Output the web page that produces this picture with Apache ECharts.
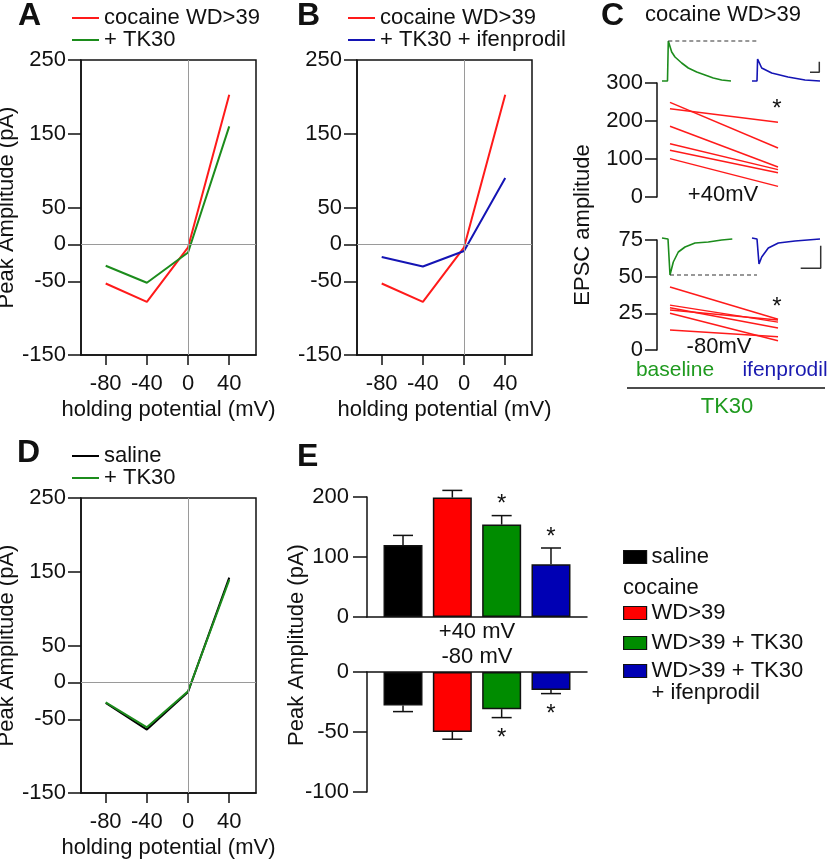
<!DOCTYPE html>
<html>
<head>
<meta charset="utf-8">
<script src="https://cdn.jsdelivr.net/npm/echarts@6/dist/echarts.min.js"></script>
<style>
  html, body { margin: 0; padding: 0; background: #fff; }
  #chart { width: 828px; height: 860px; }
</style>
</head>
<body>
<div id="chart"></div>
<script>
// holding potentials (mV) and I-V tick labels
const potentials = [-80, -40, 0, 40];
const ivTicks = [-150, -50, 0, 50, 150, 250];

// A / B: cocaine WD>39 I-V curves (pA)
const cocaineIV = [-53, -78, -4, 203];
const tk30IV = [-29, -52, -11, 160];
const ifenIV = [-17, -30, -9, 90];

// D: saline I-V curves (pA)
const salineIV = [-28, -64, -13, 142];
const salineTk30IV = [-27, -61, -12, 139];

// C: paired cells, baseline -> ifenprodil
const c40Baseline = [249, 232, 186, 140, 123, 101];
const c40Ifen = [129, 197, 79, 72, 64, 28];
const c80Baseline = [43, 30.6, 28.8, 27.2, 25, 13.6];
const c80Ifen = [21, 19, 15, 20.5, 6.3, 9];

// C: example EPSC traces [time, amplitude]
const trace40Base = [[4, 0], [9.5, 0], [10.3, 40], [13.7, 29], [17, 24], [23.7, 18], [30.3, 13], [38.7, 9], [47, 6], [55.3, 3], [63.7, 1], [73, 0]];
const trace40Ifen = [[94, 0], [99, 0], [99.6, 22], [103.7, 13], [113.7, 8], [130, 4], [147, 1], [162, 0]];
const trace80Base = [[4, 0], [10, -1], [12, -37], [15.3, -24], [20.3, -14], [27, -9], [37, -5], [50.3, -4], [63.7, -2], [74.3, -1]];
const trace80Ifen = [[94, 0], [99, -1], [101, -26], [103.7, -19], [110.3, -10], [120.3, -5], [137, -3], [162, -1]];
const scale40 = [[152, 8.7], [161.3, 8.7], [161.3, 19.3]];
const scale80 = [[142.7, -30.3], [162.7, -30.3], [162.7, -7.7]];

// E: group means and SEM (pA)
const groups = ['saline', 'WD>39', 'WD>39 + TK30', 'WD>39 + TK30 + ifenprodil'];
const groupColors = ['#000000', '#ff0000', '#008c00', '#0000b4'];
const mean40 = [120, 199, 154, 88];
const sem40 = [16, 12, 15, 27];
const mean80 = [-28, -50, -31, -15];
const sem80 = [5, 6, 7, 3];
const sig = [false, false, true, true];

const FONT = '"Liberation Sans", Arial, Helvetica, sans-serif';
const FS = 22;
const black = '#111';
const red = '#ff1a1a';
const green = '#1c8c1c';
const blue = '#1414b4';

const chart = echarts.init(document.getElementById('chart'));

const solidAxis = { show: true, onZero: false, lineStyle: { color: black, width: 1.5 } };
const tickStyle = { color: black, width: 1.5 };

function ivX(gi) {
    return {
        gridIndex: gi, type: 'value', min: -104, max: 66,
        axisLine: solidAxis,
        axisTick: { show: true, customValues: potentials, length: 10, lineStyle: tickStyle },
        axisLabel: { customValues: potentials, fontSize: FS, color: black, margin: 18 },
        splitLine: { show: false },
        name: 'holding potential (mV)', nameLocation: 'middle', nameGap: 44,
        nameTextStyle: { fontSize: FS, color: black }
    };
}
function ivY(gi, name) {
    return {
        gridIndex: gi, type: 'value', min: -150, max: 250,
        axisLine: solidAxis,
        axisTick: { show: true, customValues: ivTicks, length: 13, lineStyle: tickStyle },
        axisLabel: { customValues: ivTicks, fontSize: FS, color: black, margin: 15 },
        splitLine: { show: false },
        name: name, nameLocation: 'middle', nameGap: 59,
        nameTextStyle: { fontSize: FS, color: black }
    };
}
const zeroLines = {
    silent: true, symbol: 'none', label: { show: false },
    lineStyle: { color: '#9a9a9a', width: 1, type: 'solid' },
    data: [{ yAxis: 0 }, { xAxis: 0 }]
};
function ivLine(name, color, gi, values, withZero) {
    return {
        type: 'line', name: name, xAxisIndex: gi, yAxisIndex: gi,
        data: potentials.map((p, i) => [p, values[i]]),
        showSymbol: false, symbol: 'none', silent: true,
        lineStyle: { color: color, width: 2 }, itemStyle: { color: color },
        markLine: withZero ? zeroLines : undefined
    };
}
function pairLines(gi, left, right) {
    return left.map((v, i) => ({
        type: 'line', xAxisIndex: gi, yAxisIndex: gi, silent: true,
        data: [[0, v], [1, right[i]]], showSymbol: false, symbol: 'none',
        lineStyle: { color: red, width: 1.5 }
    }));
}
function traceLine(gi, data, color, width, dashed) {
    return {
        type: 'line', xAxisIndex: gi, yAxisIndex: gi, silent: true, data: data,
        showSymbol: false, symbol: 'none',
        lineStyle: { color: color, width: width, type: dashed ? [4, 3] : 'solid' }
    };
}
function hiddenAxis(gi, min, max) {
    return { gridIndex: gi, type: 'value', min: min, max: max, show: false };
}
function cY(gi, max, interval) {
    return {
        gridIndex: gi, type: 'value', min: 0, max: max, interval: interval, offset: 13,
        axisLine: solidAxis,
        axisTick: { show: true, length: 12, lineStyle: tickStyle },
        axisLabel: { fontSize: FS, color: black, margin: 14 },
        splitLine: { show: false }
    };
}
function eX(gi, name, pos) {
    return {
        gridIndex: gi, type: 'value', min: -0.73, max: 3.73, position: pos,
        axisLine: { show: true, onZero: true, lineStyle: { color: black, width: 1.5 } },
        axisTick: { show: false }, axisLabel: { show: false }, splitLine: { show: false },
        name: name, nameLocation: 'middle', nameGap: 4,
        nameTextStyle: { fontSize: FS, color: black }
    };
}
function eY(gi, min, max, interval) {
    return {
        gridIndex: gi, type: 'value', min: min, max: max, interval: interval,
        axisLine: solidAxis,
        axisTick: { show: true, length: 14, lineStyle: tickStyle },
        axisLabel: { fontSize: FS, color: black, margin: 18 },
        splitLine: { show: false }
    };
}
function bars(gi, means) {
    return groups.map((g, i) => ({
        type: 'bar', name: g, xAxisIndex: gi, yAxisIndex: gi, silent: true,
        data: [[i, means[i]]], barWidth: 39, barGap: '-100%',
        itemStyle: { color: groupColors[i], borderColor: black, borderWidth: 1.5 }
    }));
}
function errBars(gi, means, sems, dir) {
    return {
        type: 'custom', xAxisIndex: gi, yAxisIndex: gi, silent: true, z: 5,
        data: means.map((m, i) => [i, m, m + dir * sems[i], sig[i] ? 1 : 0]),
        renderItem: function (params, api) {
            const base = api.coord([api.value(0), api.value(1)]);
            const tip = api.coord([api.value(0), api.value(2)]);
            const kids = [
                { type: 'line', shape: { x1: base[0], y1: base[1], x2: tip[0], y2: tip[1] }, style: { stroke: black, lineWidth: 1.5 } },
                { type: 'line', shape: { x1: tip[0] - 10, y1: tip[1], x2: tip[0] + 10, y2: tip[1] }, style: { stroke: black, lineWidth: 1.5 } }
            ];
            if (api.value(3)) {
                kids.push({ type: 'text', x: tip[0], y: tip[1] + (dir > 0 ? -11 : 21),
                    style: { text: '*', font: '24px ' + FONT, fill: black, align: 'center', verticalAlign: 'middle' } });
            }
            return { type: 'group', children: kids };
        }
    };
}
function txt(x, y, text, size, opts) {
    opts = opts || {};
    return {
        type: 'text', x: x, y: y, rotation: opts.rot || 0, silent: true,
        style: {
            text: text, fill: opts.color || black,
            font: (opts.bold ? 'bold ' : '') + size + 'px ' + FONT,
            align: opts.align || 'center', verticalAlign: 'middle'
        }
    };
}
const lineLegend = {
    orient: 'vertical', icon: 'rect', itemWidth: 27, itemHeight: 2, itemGap: 0, padding: 0,
    itemStyle: { borderWidth: 0 },
    textStyle: { fontSize: FS, lineHeight: 21, color: black }
};
const boxLegend = {
    orient: 'vertical', icon: 'rect', itemWidth: 23, itemHeight: 13, itemGap: 8, padding: 0, left: 623,
    itemStyle: { borderColor: black, borderWidth: 1.2 },
    textStyle: { fontSize: FS, lineHeight: 22, color: black }
};

const gridBox = { show: true, borderColor: black, borderWidth: 1.5, backgroundColor: 'transparent', outerBoundsMode: 'none' };
const plain = { outerBoundsMode: 'none' };

chart.setOption({
    animation: false,
    backgroundColor: '#fff',
    textStyle: { fontFamily: FONT },
    grid: [
        Object.assign({ left: 81, top: 60, width: 175, height: 295 }, gridBox),   // A
        Object.assign({ left: 357, top: 60, width: 175, height: 295 }, gridBox),  // B
        Object.assign({ left: 81, top: 498, width: 175, height: 295 }, gridBox),  // D
        Object.assign({ left: 670, top: 83, width: 108, height: 114 }, plain),    // C +40
        Object.assign({ left: 670, top: 240, width: 108, height: 110 }, plain),   // C -80
        Object.assign({ left: 658, top: 31, width: 170, height: 60 }, plain),     // C traces +40
        Object.assign({ left: 658, top: 228, width: 170, height: 60 }, plain),    // C traces -80
        Object.assign({ left: 367, top: 497, width: 220, height: 120 }, plain),   // E +40
        Object.assign({ left: 367, top: 672, width: 220, height: 120 }, plain)    // E -80
    ],
    xAxis: [
        ivX(0), ivX(1), ivX(2),
        hiddenAxis(3, 0, 1), hiddenAxis(4, 0, 1),
        hiddenAxis(5, 0, 170), hiddenAxis(6, 0, 170),
        eX(7, '+40 mV', 'bottom'), eX(8, '-80 mV', 'top')
    ],
    yAxis: [
        ivY(0, 'Peak Amplitude (pA)'), ivY(1, ''), ivY(2, 'Peak Amplitude (pA)'),
        cY(3, 300, 100), cY(4, 75, 25),
        hiddenAxis(5, -10, 50), hiddenAxis(6, -50, 10),
        eY(7, 0, 200, 100), eY(8, -100, 0, 50)
    ],
    legend: [
        Object.assign({ left: 72, top: 7, data: ['cocaine WD>39', '+ TK30'] }, lineLegend),
        Object.assign({ left: 348, top: 7, data: ['cocaine WD>39', '+ TK30 + ifenprodil'] }, lineLegend),
        Object.assign({ left: 72, top: 445, data: ['saline', '+ TK30'] }, lineLegend),
        Object.assign({ top: 546, data: ['saline'] }, boxLegend),
        Object.assign({ top: 602, data: ['WD>39', 'WD>39 + TK30'] }, boxLegend),
        // last entry wraps; an empty first line keeps the swatch on the first text line
        Object.assign({}, boxLegend, {
            top: 638, data: ['WD>39 + TK30 + ifenprodil'],
            formatter: n => ' \n' + n.replace(' + ifenprodil', '\n+ ifenprodil')
        })
    ],
    series: [].concat(
        bars(7, mean40), bars(8, mean80),
        [errBars(7, mean40, sem40, 1), errBars(8, mean80, sem80, -1)],
        [
            ivLine('cocaine WD>39', red, 0, cocaineIV, true),
            ivLine('+ TK30', green, 0, tk30IV, false),
            ivLine('cocaine WD>39', red, 1, cocaineIV, true),
            ivLine('+ TK30 + ifenprodil', blue, 1, ifenIV, false),
            ivLine('saline', '#000', 2, salineIV, true),
            ivLine('+ TK30', green, 2, salineTk30IV, false)
        ],
        pairLines(3, c40Baseline, c40Ifen),
        pairLines(4, c80Baseline, c80Ifen),
        [
            traceLine(5, trace40Base, green, 1.6),
            traceLine(5, trace40Ifen, blue, 1.6),
            traceLine(5, [[trace40Base[2][0], trace40Base[2][1]], [99, trace40Base[2][1]]], '#333', 1.2, true),
            traceLine(5, scale40, '#333', 1.5),
            traceLine(6, trace80Base, green, 1.6),
            traceLine(6, trace80Ifen, blue, 1.6),
            traceLine(6, [[trace80Base[2][0], trace80Base[2][1]], [99, trace80Base[2][1]]], '#333', 1.2, true),
            traceLine(6, scale80, '#333', 1.5)
        ]
    ),
    graphic: [
        txt(18, 16, 'A', 32, { bold: true, align: 'left' }),
        txt(297, 16, 'B', 32, { bold: true, align: 'left' }),
        txt(601, 16, 'C', 32, { bold: true, align: 'left' }),
        txt(17, 453, 'D', 32, { bold: true, align: 'left' }),
        txt(297, 457, 'E', 32, { bold: true, align: 'left' }),
        txt(723, 15, 'cocaine WD>39', FS),
        txt(583, 225, 'EPSC amplitude', FS, { rot: Math.PI / 2 }),
        txt(723, 195, '+40mV', FS),
        txt(719, 347, '-80mV', FS),
        txt(777, 109, '*', 24),
        txt(777, 307, '*', 24),
        txt(675, 370, 'baseline', 21, { color: '#1f9a1f' }),
        txt(785, 370, 'ifenprodil', 21, { color: '#1a1ab0' }),
        { type: 'line', silent: true, shape: { x1: 627, y1: 388, x2: 825, y2: 388 }, style: { stroke: black, lineWidth: 1.5 } },
        txt(727, 407, 'TK30', FS, { color: '#1f9a1f' }),
        txt(297, 645, 'Peak Amplitude (pA)', FS, { rot: Math.PI / 2 }),
        txt(623, 588, 'cocaine', FS, { align: 'left' })
    ]
});
</script>
</body>
</html>
